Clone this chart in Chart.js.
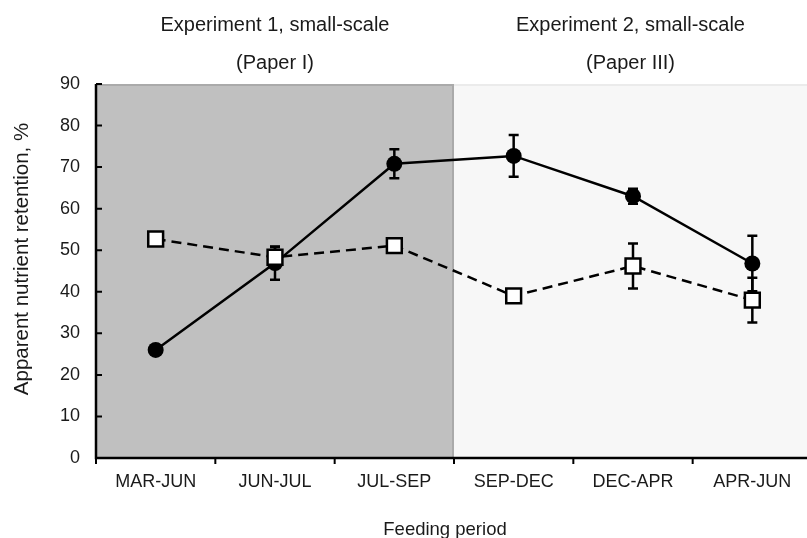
<!DOCTYPE html>
<html>
<head>
<meta charset="utf-8">
<script src="https://cdn.jsdelivr.net/npm/chart.js@4"></script>
<style>
html,body{margin:0;padding:0;background:#fff;overflow:hidden;}
#wrap{width:807px;height:538px;position:relative;overflow:hidden;}
</style>
</head>
<body>
<div id="wrap"><canvas id="c" width="812" height="538"></canvas></div>
<script>
const categories = ['MAR-JUN','JUN-JUL','JUL-SEP','SEP-DEC','DEC-APR','APR-JUN'];
const solidMeans = [26, 46.9, 70.8, 72.7, 63, 46.8];
const solidErr = [1, 4, 3.5, 5, 1.8, 6.7];
const dashedMeans = [52.7, 48.3, 51.1, 39, 46.2, 38];
const dashedErr = [0.8, 2.5, 1, 0.8, 5.4, 5.4];
const yTicks = [0,10,20,30,40,50,60,70,80,90];
const sectionTitles = [['Experiment 1, small-scale','(Paper I)'],['Experiment 2, small-scale','(Paper III)']];
const sectionSplit = 2.5;
const xTitle = 'Feeding period';
const yTitle = 'Apparent nutrient retention, %';

const FONT = '"Liberation Sans", Arial, sans-serif';
const TXT = '#1a1a1a';
const VISIBLE_W = 807;

const bgPlugin = {
  id: 'bg',
  beforeDatasetsDraw(chart) {
    const {ctx, chartArea: a, scales: {x}} = chart;
    const mid = x.getPixelForValue(sectionSplit);
    ctx.save();
    ctx.fillStyle = '#c0c0c0';
    ctx.fillRect(a.left, a.top, mid - a.left, a.bottom - a.top);
    ctx.fillStyle = '#f7f7f7';
    ctx.fillRect(mid, a.top, a.right - mid, a.bottom - a.top);
    ctx.strokeStyle = '#ebebeb';
    ctx.lineWidth = 2;
    ctx.beginPath();
    ctx.moveTo(mid, a.top + 1); ctx.lineTo(a.right, a.top + 1);
    ctx.stroke();
    ctx.strokeStyle = '#aaaaaa';
    ctx.beginPath();
    ctx.moveTo(a.left, a.top + 1); ctx.lineTo(mid - 1, a.top + 1); ctx.lineTo(mid - 1, a.bottom);
    ctx.stroke();
    // error bars
    const y = chart.scales.y;
    const drawErr = (means, errs) => {
      means.forEach((m, i) => {
        const px = x.getPixelForValue(i);
        const yt = y.getPixelForValue(m + errs[i]);
        const yb = y.getPixelForValue(m - errs[i]);
        ctx.strokeStyle = '#000';
        ctx.lineWidth = 2.5;
        ctx.beginPath();
        ctx.moveTo(px, yt); ctx.lineTo(px, yb);
        ctx.moveTo(px - 5, yt); ctx.lineTo(px + 5, yt);
        ctx.moveTo(px - 5, yb); ctx.lineTo(px + 5, yb);
        ctx.stroke();
      });
    };
    drawErr(solidMeans, solidErr);
    drawErr(dashedMeans, dashedErr);
    ctx.restore();
  },
  afterDraw(chart) {
    const {ctx, chartArea: a, scales: {x, y}} = chart;
    ctx.save();
    // axes
    ctx.strokeStyle = '#000';
    ctx.lineWidth = 2.5;
    ctx.beginPath();
    ctx.moveTo(a.left, a.top); ctx.lineTo(a.left, a.bottom); ctx.lineTo(a.right, a.bottom);
    ctx.stroke();
    ctx.lineWidth = 2;
    ctx.beginPath();
    yTicks.forEach(v => {
      const py = y.getPixelForValue(v);
      ctx.moveTo(a.left, py); ctx.lineTo(a.left + 6, py);
    });
    for (let i = 0; i <= categories.length; i++) {
      const px = x.getPixelForValue(i - 0.5);
      ctx.moveTo(px, a.bottom); ctx.lineTo(px, a.bottom + 6);
    }
    ctx.stroke();
    // titles
    ctx.fillStyle = TXT;
    ctx.textAlign = 'center';
    ctx.textBaseline = 'middle';
    ctx.font = '20px ' + FONT;
    const mid = x.getPixelForValue(sectionSplit);
    const centers = [(a.left + mid) / 2, (mid + VISIBLE_W) / 2];
    sectionTitles.forEach((t, i) => {
      ctx.fillText(t[0], centers[i], 25);
      ctx.fillText(t[1], centers[i], 63);
    });
    ctx.font = '18.5px ' + FONT;
    ctx.textBaseline = 'alphabetic';
    ctx.fillText(xTitle, 445, 535);
    ctx.translate(22, 259);
    ctx.rotate(-Math.PI / 2);
    ctx.textBaseline = 'middle';
    ctx.font = '20.5px ' + FONT;
    ctx.fillText(yTitle, 0, 0);
    ctx.restore();
  }
};

new Chart(document.getElementById('c'), {
  type: 'line',
  data: {
    labels: categories,
    datasets: [
      {
        data: dashedMeans,
        borderColor: '#000',
        borderWidth: 2.5,
        borderDash: [10, 6],
        pointStyle: 'rect',
        pointRadius: 10.5,
        pointBackgroundColor: '#fff',
        pointBorderColor: '#000',
        pointBorderWidth: 2.5,
        fill: false,
        tension: 0
      },
      {
        data: solidMeans,
        borderColor: '#000',
        borderWidth: 2.5,
        pointStyle: 'circle',
        pointRadius: 8,
        pointBackgroundColor: '#000',
        pointBorderColor: '#000',
        pointBorderWidth: 0,
        fill: false,
        tension: 0
      }
    ]
  },
  options: {
    responsive: false,
    animation: false,
    events: [],
    layout: { autoPadding: false, padding: { top: 84, right: 0, left: 0, bottom: 0 } },
    plugins: { legend: { display: false }, tooltip: { enabled: false }, title: { display: false } },
    scales: {
      x: {
        type: 'category',
        offset: true,
        grid: { display: false, drawTicks: false },
        border: { display: false },
        ticks: { color: TXT, font: { size: 18, family: FONT }, padding: 13, maxRotation: 0, autoSkip: false },
        afterFit(s) { s.height = 80; s.paddingLeft = 0; s.paddingRight = 0; }
      },
      y: {
        type: 'linear',
        min: 0, max: 90,
        afterBuildTicks(s) { s.ticks = yTicks.map(v => ({ value: v })); },
        grid: { display: false, drawTicks: false },
        border: { display: false },
        ticks: { color: TXT, font: { size: 18, family: FONT }, padding: 16 },
        afterFit(s) { s.width = 96; s.paddingTop = 0; s.paddingBottom = 0; }
      }
    }
  },
  plugins: [bgPlugin]
});
</script>
</body>
</html>
